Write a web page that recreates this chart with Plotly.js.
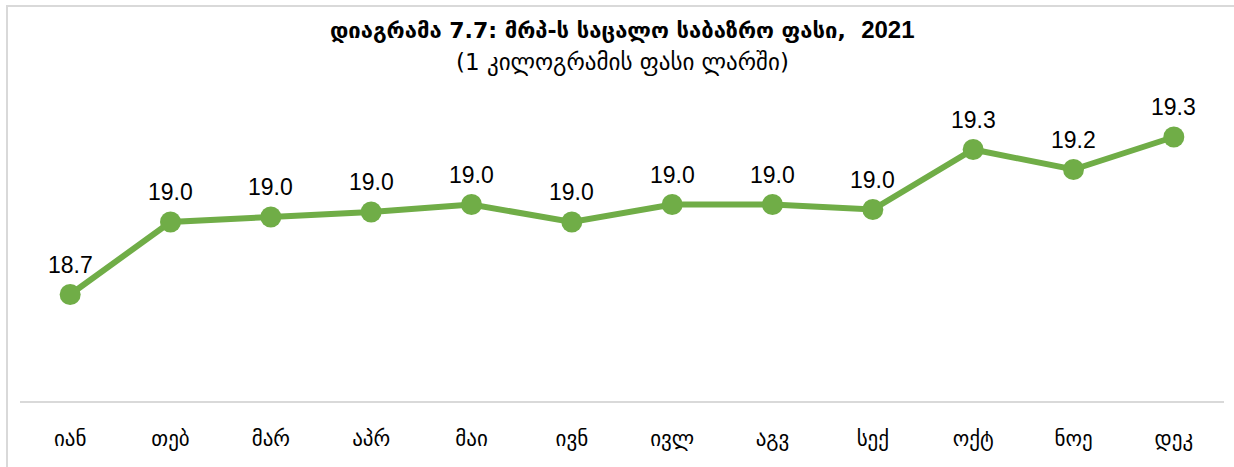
<!DOCTYPE html>
<html>
<head>
<meta charset="utf-8">
<script src="https://cdn.plot.ly/plotly-3.0.1.min.js"></script>
<style>
html,body{margin:0;padding:0;background:#fff;}
#wrap{position:absolute;left:0;top:0;width:1234px;height:467px;overflow:hidden;}
#frame{position:absolute;left:6px;top:5px;width:1300px;height:600px;border-left:2px solid #d9d9d9;border-top:2px solid #d9d9d9;}
#chart{position:absolute;left:0;top:0;width:1234px;height:467px;}
</style>
</head>
<body>
<div id="wrap"><div id="frame"></div><div id="chart"></div></div>
<script>
const months = ["იან","თებ","მარ","აპრ","მაი","ივნ","ივლ","აგვ","სექ","ოქტ","ნოე","დეკ"];
const prices = [18.68, 18.97, 18.99, 19.01, 19.04, 18.97, 19.04, 19.04, 19.02, 19.26, 19.18, 19.31];
const titleLine1 = "დიაგრამა 7.7: მრპ-ს საცალო საბაზრო ფასი,  2021";
const titleLine2 = "(1 კილოგრამის ფასი ლარში)";

const geoFont = "DejaVu Sans, sans-serif";
const numFont = "Liberation Sans, Arial, sans-serif";

const trace = {
  x: months,
  y: prices,
  type: "scatter",
  mode: "lines+markers",
  line: {color: "#70ad47", width: 6},
  marker: {color: "#70ad47", size: 21},
  hoverinfo: "skip",
  cliponaxis: false
};

const labelAnn = months.map((m, i) => ({
  x: m, y: prices[i], xref: "x", yref: "y",
  text: prices[i].toFixed(1), showarrow: false, yshift: 30,
  font: {family: numFont, size: 23, color: "#000"}
}));

const titleAnn = [
  {xref: "paper", yref: "paper", x: 0.5, y: (401 - 29) / 325,
   text: "<b>" + titleLine1.replace("2021", "</b><b style='font-family:Liberation Sans;font-size:24px'>2021") + "</b>",
   showarrow: false, xanchor: "center", yanchor: "middle", font: {family: geoFont, size: 22, color: "#000"}},
  {xref: "paper", yref: "paper", x: 0.5, y: (401 - 63) / 325, text: titleLine2,
   showarrow: false, xanchor: "center", yanchor: "middle", font: {family: geoFont, size: 23, color: "#000"}}
];

const layout = {
  width: 1234, height: 467,
  margin: {l: 20, r: 10, t: 76, b: 66},
  paper_bgcolor: "rgba(0,0,0,0)",
  plot_bgcolor: "rgba(0,0,0,0)",
  showlegend: false,
  xaxis: {
    type: "category", range: [-0.5, 11.5], showgrid: false, zeroline: false,
    showline: true, linecolor: "#d9d9d9", linewidth: 2,
    ticks: "", ticklabelstandoff: 18, tickfont: {family: geoFont, size: 21, color: "#000"},
    fixedrange: true
  },
  yaxis: {
    range: [18.254, 19.554], showgrid: false, zeroline: false, showline: false,
    showticklabels: false, ticks: "", fixedrange: true
  },
  annotations: labelAnn.concat(titleAnn)
};

Plotly.newPlot("chart", [trace], layout, {displayModeBar: false, staticPlot: true});
</script>
</body>
</html>
